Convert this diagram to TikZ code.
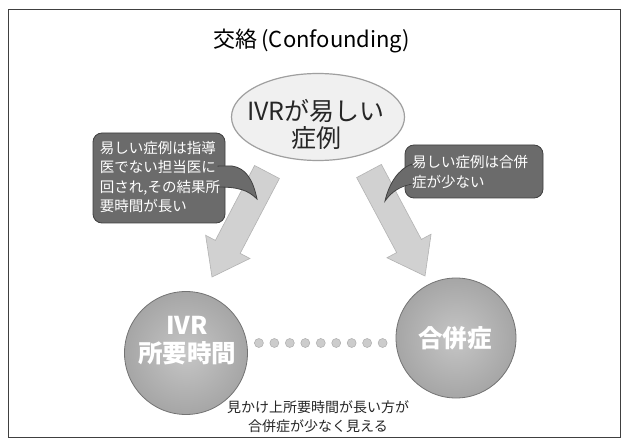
\documentclass[tikz,border=0pt]{standalone}
\usepackage{fontspec}
\setmainfont{Noto Sans CJK JP}
\usetikzlibrary{calc,shapes.geometric}
\begin{document}
\begin{tikzpicture}[x=1pt,y=-1pt,
  frame/.style={draw=black!75, line width=0.9pt},
  ttl/.style={font=\fontsize{22}{26}\selectfont},
  topell/.style={ellipse, draw=gray!75, line width=1.2pt, fill=gray!12, minimum width=173pt, minimum height=87pt, inner sep=0pt},
  elltext/.style={font=\fontsize{25}{27}\selectfont, align=center, text=black!85},
  bigarrow/.style={fill=gray!36, draw=gray!60, line width=0.6pt},
  cbox/.style={rectangle, rounded corners=9pt, fill=black!58, draw=black!75, line width=0.8pt, inner sep=0pt},
  ctail/.style={fill=black!58, draw=black!75, line width=0.8pt},
  ctailfill/.style={fill=black!58},
  ctext/.style={text=white, font=\fontsize{14.5}{19.5}\selectfont, align=left, inner sep=0pt},
  ball/.style={circle, draw=black!55, line width=0.8pt, inner color=gray!45, outer color=gray!70, minimum size=#1, inner sep=0pt},
  balltext/.style={text=white, font=\bfseries\fontsize{24.5}{28}\selectfont, align=center, inner sep=0pt},
  dotc/.style={circle, fill=gray!40, draw=gray!65, line width=0.5pt, minimum size=9pt, inner sep=0pt},
  note/.style={font=\fontsize{14}{19}\selectfont, align=center, text=black!85}
]
\useasboundingbox (0,0) rectangle (628,443);
\path[fill=white] (0,0) rectangle (628,443);
\draw[frame] (8,9) rectangle (620,437);

% title
\node[ttl] (title) at (312,41) {交絡\,(Confounding)};

% top ellipse
\node[topell] (top) at (318,117) {};
\node[elltext] (toptext) at (316,124) {IVRが易しい\\症例};

% block arrows
\coordinate (LS) at (267,172);
\coordinate (LT) at (212,277);
\coordinate (LB) at ($(LT)!34pt!(LS)$);
\draw[bigarrow] ($(LS)!14pt!90:(LT)$) -- ($(LB)!14pt!-90:(LS)$) -- ($(LB)!25pt!-90:(LS)$) -- (LT)
  -- ($(LB)!25pt!90:(LS)$) -- ($(LB)!14pt!90:(LS)$) -- ($(LS)!14pt!-90:(LT)$) -- cycle;

\coordinate (RS) at (369,171);
\coordinate (RT) at (425,276);
\coordinate (RB) at ($(RT)!34pt!(RS)$);
\draw[bigarrow] ($(RS)!14pt!90:(RT)$) -- ($(RB)!14pt!-90:(RS)$) -- ($(RB)!25pt!-90:(RS)$) -- (RT)
  -- ($(RB)!25pt!90:(RS)$) -- ($(RB)!14pt!90:(RS)$) -- ($(RS)!14pt!-90:(RT)$) -- cycle;

% left callout
\node[cbox, minimum width=132pt, minimum height=90pt] (lbox) at (159,178) {};
\draw[ctail] (218,166) -- (232,166) .. controls (246,168) and (253,180) .. (257,199)
  .. controls (248,190) and (238,187) .. (218,187) -- cycle;
\fill[ctailfill] (216,167) -- (232,167) .. controls (245,169) and (252,181) .. (255.5,196)
  .. controls (247,189) and (238,186) .. (216,186) -- cycle;
\node[ctext] (ltext) at (160,177) {易しい症例は指導\\医でない担当医に\\回され,その結果所\\要時間が長い};

% right callout
\node[cbox, minimum width=138pt, minimum height=53pt] (rbox) at (474,171.5) {};
\draw[ctail] (412,164) .. controls (398,169) and (389,184) .. (385,201)
  .. controls (392,191) and (401,186) .. (412,184) -- cycle;
\fill[ctailfill] (414,165) .. controls (399,170) and (391,183) .. (387,197)
  .. controls (393,190) and (401,185.5) .. (414,183) -- cycle;
\node[ctext] (rtext) at (470,172) {易しい症例は合併\\症が少ない};

% bottom balls
\node[ball=123pt] (lball) at (186,353) {};
\node[balltext] (lballtext) at (187,341) {IVR\\所要時間};
\node[ball=120pt] (rball) at (456,338) {};
\node[balltext] (rballtext) at (455,338) {合併症};

% dotted connector
\coordinate (d1) at ($(lball.east |- 0,343)+(11,0)$);
\coordinate (d9) at ($(rball.west |- 0,343)+(-13,0)$);
\foreach \i in {0,...,8} {
  \node[dotc] (dot\i) at ($(d1)!{\i/8}!(d9)$) {};
}

% note
\node[note] (note) at (318,417) {見かけ上所要時間が長い方が\\合併症が少なく見える};
\end{tikzpicture}
\end{document}
